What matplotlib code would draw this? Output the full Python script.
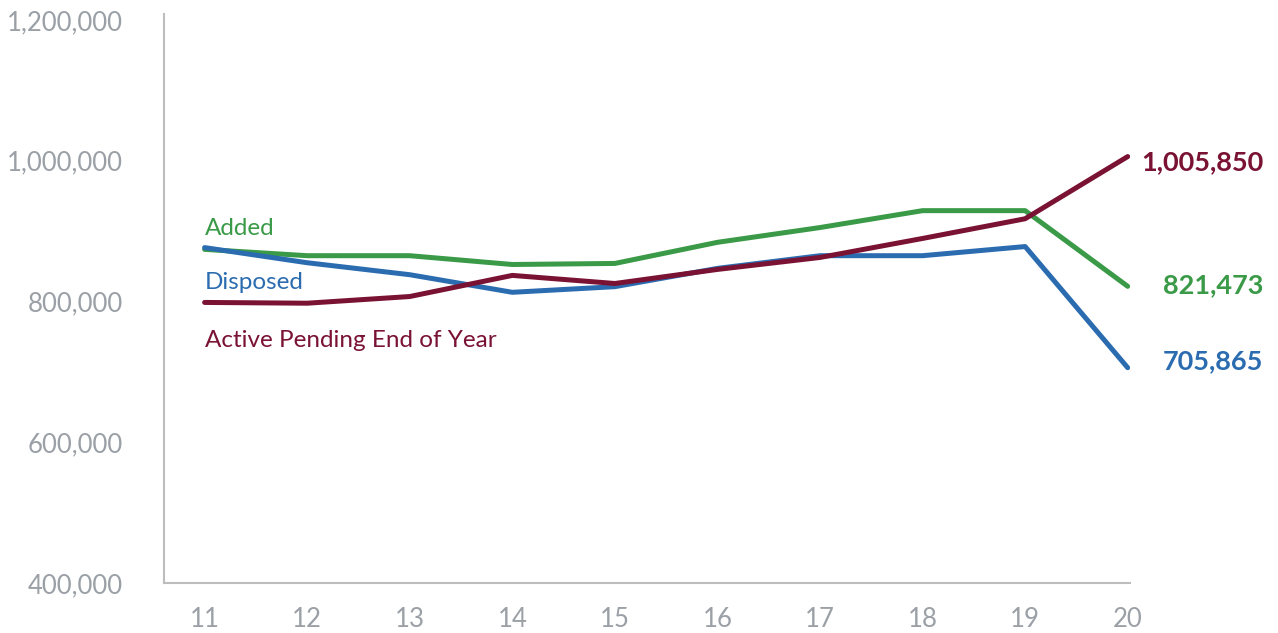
import matplotlib.pyplot as plt
from matplotlib.ticker import FuncFormatter

years = [11, 12, 13, 14, 15, 16, 17, 18, 19, 20]
added = [874000, 865000, 865000, 852500, 854000, 884000, 905000, 929000, 929000, 821473]
disposed = [876500, 855000, 838000, 813000, 821000, 847000, 865000, 865000, 878000, 705865]
pending = [798600, 797500, 807000, 837000, 825500, 845500, 862500, 889500, 917500, 1005850]

names = ['Added', 'Disposed', 'Active Pending End of Year']
colors = ['#3a9a47', '#2b6cb0', '#7a1234']
series = [added, disposed, pending]
name_y = [903000, 827000, 744000]
end_text = ['821,473', '705,865', '1,005,850']
end_y = [822700, 714900, 998600]

plt.rcParams['font.family'] = ['Lato', 'DejaVu Sans']

fig = plt.figure(figsize=(12.78, 6.33), dpi=100)
ax = fig.add_axes([0.128, 0.079, 0.756, 0.899])

for vals, c in zip(series, colors):
    ax.plot(years, vals, color=c, lw=3.6, solid_capstyle='round', solid_joinstyle='round')

for n, c, y in zip(names, colors, name_y):
    ax.text(11, y, n, color=c, fontsize=17.5, va='center', ha='left')

for t, c, y in zip(end_text, colors, end_y):
    ax.text(21.32, y, t, color=c, fontsize=19.5, fontweight='bold', va='center', ha='right', clip_on=False)

ax.set_xlim(10.6, 20.02)
ax.set_ylim(400000, 1208500)
ax.set_xticks(years)
ax.set_yticks([400000, 600000, 800000, 1000000, 1200000])
ax.yaxis.set_major_formatter(FuncFormatter(lambda v, p: f'{int(v):,}'))
ax.tick_params(length=0, labelsize=18.5, colors='#9aa0a6')
ax.tick_params(axis='x', pad=17)
ax.tick_params(axis='y', pad=29.5)

for s in ['top', 'right']:
    ax.spines[s].set_visible(False)
for s in ['left', 'bottom']:
    ax.spines[s].set_color('#bdbdbd')
    ax.spines[s].set_linewidth(1.5)

fig.savefig('out.png', dpi=100)
